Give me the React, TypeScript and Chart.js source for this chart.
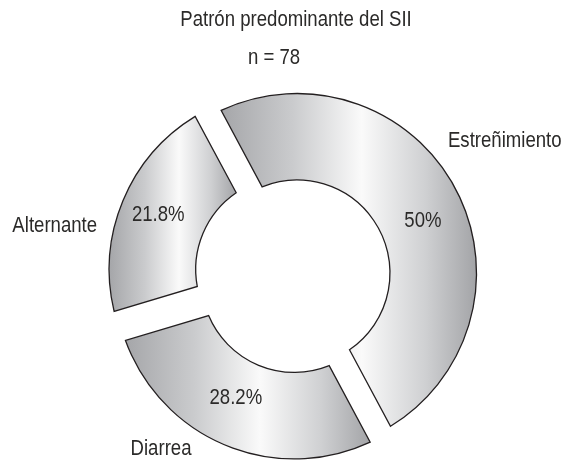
import React, { useEffect, useRef } from 'react';
import { Chart, registerables, ArcElement, DoughnutController } from 'chart.js';

// ---- data ----
const CATEGORIES = ['Estreñimiento', 'Diarrea', 'Alternante'];
const COUNTS = [39, 22, 17];
const TITLE = 'Patrón predominante del SII';
const SUBTITLE = 'n = 78';

// ---- style ----
const FONT = "'Liberation Sans', Arial, sans-serif";
const NARROW = 0.845; // condensed look of the original typeface
const TEXT = '#2b2a29';
const SHADE: [number, string][] = [
  [0, '#a5a6a9'],
  [0.28, '#cacbcd'],
  [0.55, '#fafafa'],
  [0.8, '#cfd0d2'],
  [1, '#a3a4a7'],
];

function narrowText(ctx: CanvasRenderingContext2D, text: string, x: number, y: number, align: CanvasTextAlign, size: number) {
  ctx.save();
  ctx.translate(x, y);
  ctx.scale(NARROW, 1);
  ctx.font = `${size}px ${FONT}`;
  ctx.fillStyle = TEXT;
  ctx.textAlign = align;
  ctx.textBaseline = 'middle';
  ctx.fillText(text, 0, 0);
  ctx.restore();
}

// Arc element whose neighbouring edges are separated by parallel gaps
class GapArc extends ArcElement {
  static id = 'gapArc';
  draw(ctx: CanvasRenderingContext2D) {
    const p: any = (this as any).getProps(['x', 'y', 'startAngle', 'endAngle', 'innerRadius', 'outerRadius']);
    const o: any = (this as any).options;
    const mid = (p.startAngle + p.endAngle) / 2;
    const shift = o.offset || 0;
    const cx = p.x + Math.cos(mid) * shift;
    const cy = p.y + Math.sin(mid) * shift;
    const h = (o.spacing || 0) / 2;
    const R = p.outerRadius;
    const r = p.innerRadius;
    const dR = Math.asin(Math.min(1, h / R));
    const dr = Math.asin(Math.min(1, h / r));
    const a0 = p.startAngle, a1 = p.endAngle;
    ctx.save();
    ctx.beginPath();
    ctx.arc(cx, cy, R, a0 + dR, a1 - dR);
    ctx.arc(cx, cy, r, a1 - dr, a0 + dr, true);
    ctx.closePath();
    let minX = Infinity, maxX = -Infinity;
    for (let i = 0; i <= 90; i++) {
      const t = i / 90;
      const ao = a0 + dR + (a1 - a0 - 2 * dR) * t;
      const ai = a0 + dr + (a1 - a0 - 2 * dr) * t;
      const xo = cx + R * Math.cos(ao);
      const xi = cx + r * Math.cos(ai);
      minX = Math.min(minX, xo, xi);
      maxX = Math.max(maxX, xo, xi);
    }
    const g = ctx.createLinearGradient(minX, 0, maxX, 0);
    SHADE.forEach(([s, c]) => g.addColorStop(s, c));
    ctx.fillStyle = g;
    ctx.fill();
    ctx.lineWidth = o.borderWidth;
    ctx.strokeStyle = o.borderColor;
    ctx.lineJoin = 'miter';
    ctx.stroke();
    ctx.restore();
  }
}

class GapDoughnutController extends DoughnutController {
  static id = 'gapDoughnut';
  static defaults = { ...(DoughnutController as any).defaults, dataElementType: 'gapArc' };
}

Chart.register(...registerables, GapArc, GapDoughnutController);

const headings = {
  id: 'headings',
  afterDraw(chart: any, _args: any, opts: any) {
    const ctx: CanvasRenderingContext2D = chart.ctx;
    const area = chart.chartArea;
    const cx = (area.left + area.right) / 2;
    narrowText(ctx, opts.title, cx + opts.titleShift, opts.titleY, 'center', opts.size);
    narrowText(ctx, opts.subtitle, cx + opts.subtitleShift, opts.subtitleY, 'center', opts.size);
  },
};

const sliceLabels = {
  id: 'sliceLabels',
  afterDatasetsDraw(chart: any, _args: any, opts: any) {
    const ctx: CanvasRenderingContext2D = chart.ctx;
    const meta = chart.getDatasetMeta(0);
    const values = chart.data.datasets[0].data as number[];
    const total = values.reduce((a, b) => a + b, 0);
    meta.data.forEach((arc: any, i: number) => {
      const p = arc.getProps(['x', 'y', 'startAngle', 'endAngle', 'innerRadius', 'outerRadius']);
      const mid = (p.startAngle + p.endAngle) / 2;
      const shift = arc.options.offset || 0;
      const cx = p.x + Math.cos(mid) * shift;
      const cy = p.y + Math.sin(mid) * shift;
      const span = p.endAngle - p.startAngle;
      const pct = Math.round((values[i] / total) * 1000) / 10;
      const pctText = (Number.isInteger(pct) ? String(pct) : pct.toFixed(1)) + '%';
      const va = p.startAngle + span * opts.valueAt[i];
      const vr = (p.innerRadius + p.outerRadius) / 2 + opts.valueGap[i];
      narrowText(ctx, pctText, cx + Math.cos(va) * vr, cy + Math.sin(va) * vr, 'center', opts.size);
      const na = p.startAngle + span * opts.nameAt[i];
      const nr = p.outerRadius + opts.nameGap[i];
      narrowText(ctx, chart.data.labels[i], cx + Math.cos(na) * nr, cy + Math.sin(na) * nr, opts.nameAlign[i], opts.size);
    });
  },
};

export default function App() {
  const ref = useRef<HTMLCanvasElement>(null);
  useEffect(() => {
    const chart = new Chart(ref.current as HTMLCanvasElement, {
      type: 'gapDoughnut' as any,
      data: {
        labels: CATEGORIES,
        datasets: [
          {
            data: COUNTS,
            offset: [0, 7, 9],
            spacing: 20,
            borderColor: '#231f20',
            borderWidth: 1.3,
            backgroundColor: '#e0e0e0',
          } as any,
        ],
      },
      options: {
        responsive: false,
        animation: false,
        events: [],
        rotation: -28.2,
        radius: 179.5,
        cutout: '51.8%',
        layout: { padding: { left: 30, right: 0, top: 79, bottom: 0 } },
        plugins: {
          legend: { display: false },
          tooltip: { enabled: false },
          title: { display: false },
          subtitle: { display: false },
          headings: {
            title: TITLE,
            subtitle: SUBTITLE,
            size: 22,
            titleShift: -1,
            titleY: 20,
            subtitleShift: -23,
            subtitleY: 57.5,
          },
          sliceLabels: {
            size: 22,
            valueAt: [0.532, 0.536, 0.5],
            valueGap: [0, -4, 5],
            nameAt: [0.428, 0.654, 0.376],
            nameGap: [21, 36, 17],
            nameAlign: ['left', 'center', 'right'],
          },
        } as any,
      } as any,
      plugins: [sliceLabels, headings],
    });
    return () => chart.destroy();
  }, []);
  return (
    <div style={{ position: 'fixed', left: 0, top: 0, width: 564, height: 467, background: '#fff' }}>
      <canvas ref={ref} width={564} height={467} style={{ width: 564, height: 467, display: 'block' }} />
    </div>
  );
}
